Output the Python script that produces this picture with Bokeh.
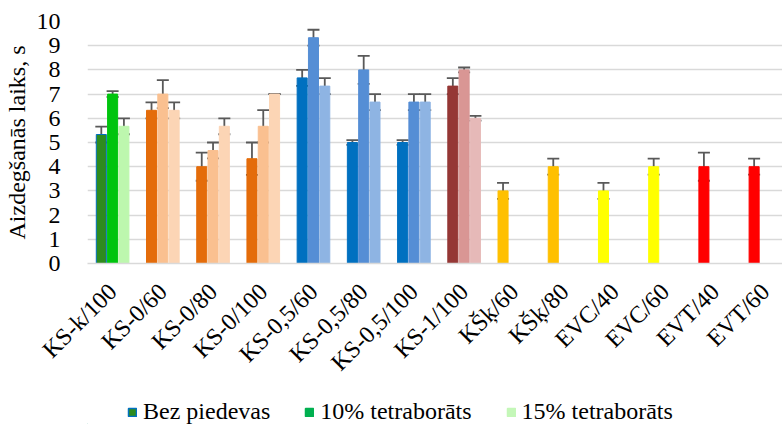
import math
from bokeh.plotting import figure
from bokeh.layouts import column
from bokeh.models import (ColumnDataSource, Range1d, FixedTicker, CustomJSTickFormatter,
                          Whisker, TeeHead, Legend, LegendItem)
from bokeh.embed import file_html
from bokeh.resources import INLINE

categories = ["KS-k/100", "KS-0/60", "KS-0/80", "KS-0/100", "KS-0,5/60", "KS-0,5/80",
              "KS-0,5/100", "KS-1/100", "KŠķ/60", "KŠķ/80", "EVC/40", "EVC/60",
              "EVT/40", "EVT/60"]
series_names = ["Bez piedevas", "10% tetraborāts", "15% tetraborāts"]

bez = [5.33, 6.33, 4.0, 4.33, 7.67, 5.0, 5.0, 7.33, 3.0, 4.0, 3.0, 4.0, 4.0, 4.0]
bez_err = [0.33, 0.33, 0.58, 0.67, 0.33, 0.1, 0.1, 0.33, 0.33, 0.33, 0.33, 0.33, 0.58, 0.33]
t10 = [7.0, 7.0, 4.67, 5.67, 9.33, 8.0, 6.67, 8.0]
t10_err = [0.12, 0.58, 0.33, 0.67, 0.33, 0.58, 0.33, 0.1]
t15 = [5.67, 6.33, 5.67, 7.0, 7.33, 6.67, 6.67, 6.0]
t15_err = [0.33, 0.33, 0.33, 0.0, 0.33, 0.33, 0.33, 0.1]

yticks = list(range(0, 11))

bez_colors = ["#2E8B1E", "#E46C0A", "#E46C0A", "#E46C0A", "#0070C0", "#0070C0", "#0070C0",
              "#953735", "#FFC000", "#FFC000", "#FFFF00", "#FFFF00", "#FF0000", "#FF0000"]
bez_lines = ["#0070C0"] + bez_colors[1:]
t10_colors = ["#00C40E", "#FAC090", "#FAC090", "#FAC090", "#558ED5", "#558ED5", "#558ED5", "#D99694"]
t15_colors = ["#BDF7AE", "#FCD5B5", "#FCD5B5", "#FCD5B5", "#8EB4E3", "#8EB4E3", "#8EB4E3", "#E6B9B8"]
legend_fill = ["#2E8B1E", "#00B050", "#C4F7B8"]
legend_line = ["#0070C0", "#00B050", "#C4F7B8"]

offsets = [-0.225, 0.0, 0.225]
bar_w = 0.2
font = "Liberation Serif"

p = figure(width=782, height=395, output_backend="svg", toolbar_location=None,
           x_range=Range1d(0, 13.84), y_range=Range1d(0, 10),
           min_border_left=85, min_border_right=0, min_border_top=21, min_border_bottom=132)
p.outline_line_color = None
p.background_fill_color = "white"
p.border_fill_color = "white"

series = [(bez, bez_err, bez_colors, bez_lines), (t10, t10_err, t10_colors, t10_colors),
          (t15, t15_err, t15_colors, t15_colors)]
for k, (vals, errs, cols, lcols) in enumerate(series):
    n = len(vals)
    src = ColumnDataSource(dict(
        x=[i + 0.5 + offsets[k] for i in range(n)],
        top=vals,
        upper=[v + e for v, e in zip(vals, errs)],
        lower=[v - e for v, e in zip(vals, errs)],
        fill=cols, line=lcols))
    p.vbar(x="x", top="top", bottom=0, width=bar_w, source=src,
           fill_color="fill", line_color="line", line_width=1)
    w = Whisker(source=src, base="x", upper="upper", lower="lower",
                line_color="#595959", line_width=1.8,
                upper_head=TeeHead(size=12, line_color="#595959", line_width=1.8),
                lower_head=TeeHead(size=12, line_color="#595959", line_width=1.8))
    p.add_layout(w)

# x axis
p.xaxis.ticker = FixedTicker(ticks=[i + 0.5 for i in range(len(categories))])
p.xaxis.formatter = CustomJSTickFormatter(args=dict(labels=categories),
                                          code="const i = Math.round(tick - 0.5); return labels[i] || '';")
p.xaxis.major_label_orientation = math.pi / 4
p.xaxis.major_label_text_font = font
p.xaxis.major_label_text_font_size = "24px"
p.xaxis.major_label_text_color = "black"
p.xaxis.major_label_standoff = 18
p.xaxis.major_tick_line_color = None
p.xaxis.minor_tick_line_color = None
p.xaxis.axis_line_color = "#D9D9D9"
p.xaxis.axis_line_width = 1.5

# y axis
p.yaxis.ticker = FixedTicker(ticks=yticks)
p.yaxis.major_label_text_font = font
p.yaxis.major_label_text_font_size = "24px"
p.yaxis.major_label_text_color = "black"
p.yaxis.major_label_standoff = 21
p.yaxis.major_tick_line_color = None
p.yaxis.minor_tick_line_color = None
p.yaxis.axis_line_color = None
p.yaxis.axis_label = "Aizdegšanās laiks, s"
p.yaxis.axis_label_text_font = font
p.yaxis.axis_label_text_font_size = "24px"
p.yaxis.axis_label_text_font_style = "normal"
p.yaxis.axis_label_text_color = "black"
p.yaxis.axis_label_standoff = 4

p.xgrid.grid_line_color = None
p.ygrid.grid_line_color = "#D9D9D9"
p.ygrid.grid_line_width = 1.5

# legend strip below the chart (its frame is aligned with the chart frame)
lg = figure(width=782, height=29, output_backend="svg", toolbar_location=None,
            x_range=Range1d(0, 1), y_range=Range1d(0, 1),
            x_axis_location=None, y_axis_location=None, min_border=0)
lg.outline_line_color = None
lg.xgrid.grid_line_color = None
lg.ygrid.grid_line_color = None
items = []
for k, name in enumerate(series_names):
    # zero-height swatch carrier placed outside the visible range
    r = lg.vbar(x=[-5], top=[0], width=0.1, fill_color=legend_fill[k],
                line_color=legend_line[k], line_width=1.5)
    items.append(LegendItem(label=name, renderers=[r]))
legend = Legend(items=items, orientation="horizontal", location=(40, -1),
                glyph_width=10, glyph_height=10, label_standoff=6, spacing=34,
                padding=0, margin=0, border_line_color=None, background_fill_alpha=0,
                label_text_font=font, label_text_font_size="24px",
                label_text_color="black")
lg.add_layout(legend, "center")

layout = column(p, lg, spacing=0)
open("out.html", "w").write(file_html(layout, INLINE))
